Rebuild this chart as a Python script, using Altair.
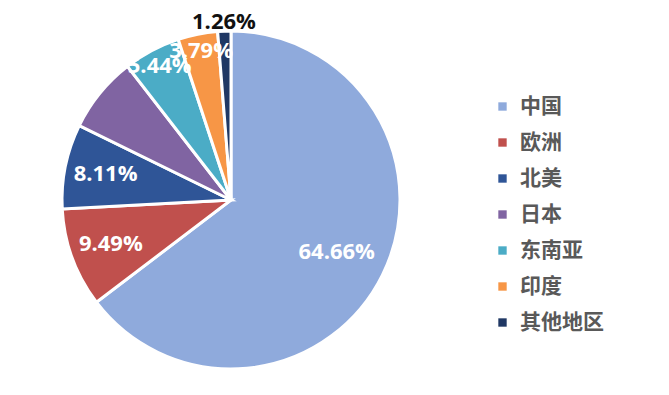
import altair as alt
import pandas as pd

regions = ["中国", "欧洲", "北美", "日本", "东南亚", "印度", "其他地区"]
shares = [64.66, 9.49, 8.11, 7.25, 5.44, 3.79, 1.26]
labels = ["64.66%", "9.49%", "8.11%", "", "5.44%", "3.79%", "1.26%"]
colors = ["#8faadc", "#c0504d", "#2f5597", "#8064a2", "#4bacc6", "#f79646", "#203864"]

df = pd.DataFrame({"region": regions, "share": shares, "label": labels,
                   "idx": list(range(len(regions)))})

arcs = alt.Chart(df).mark_arc(outerRadius=169, stroke="white", strokeWidth=3).encode(
    theta=alt.Theta("share:Q", stack=True, scale=alt.Scale(domain=[0, 100])),
    order=alt.Order("idx:Q", sort="ascending"),
    x=alt.value(223),
    y=alt.value(192),
    color=alt.Color(
        "region:N",
        scale=alt.Scale(domain=regions, range=colors),
        sort=regions,
        legend=alt.Legend(
            title=None, orient="none", legendX=484, legendY=88,
            symbolType="square", symbolSize=70, symbolStrokeWidth=0,
            labelFont="Noto Sans CJK SC", labelFontSize=21, labelFontWeight="bold",
            labelColor="#595959", rowPadding=14, symbolOffset=0, labelOffset=7,
        ),
    ),
)

texts = alt.Chart(df).transform_window(
    cum="sum(share)", sort=[alt.SortField("idx", order="ascending")], frame=[None, 0]
).transform_calculate(
    mid="datum.cum - datum.share / 2",
    r="datum.share > 50 ? 118 : (datum.share < 2 ? 178 : (datum.share < 6 ? 152 : 128))",
).mark_text(font="Open Sans", fontSize=22, fontWeight="bold").encode(
    theta=alt.Theta("mid:Q", stack=None, scale=alt.Scale(domain=[0, 100])),
    text="label:N",
    x=alt.value(223),
    y=alt.value(192),
    radius=alt.Radius("r:Q", scale=None),
    color=alt.condition("datum.share < 2", alt.value("#111111"), alt.value("#ffffff")),
)

chart = alt.layer(arcs, texts).properties(
    width=653, height=379, padding=0, autosize=alt.AutoSizeParams(type="none")
).configure_view(stroke=None)

chart.save("out.html", embed_options={"renderer": "svg", "actions": False})
